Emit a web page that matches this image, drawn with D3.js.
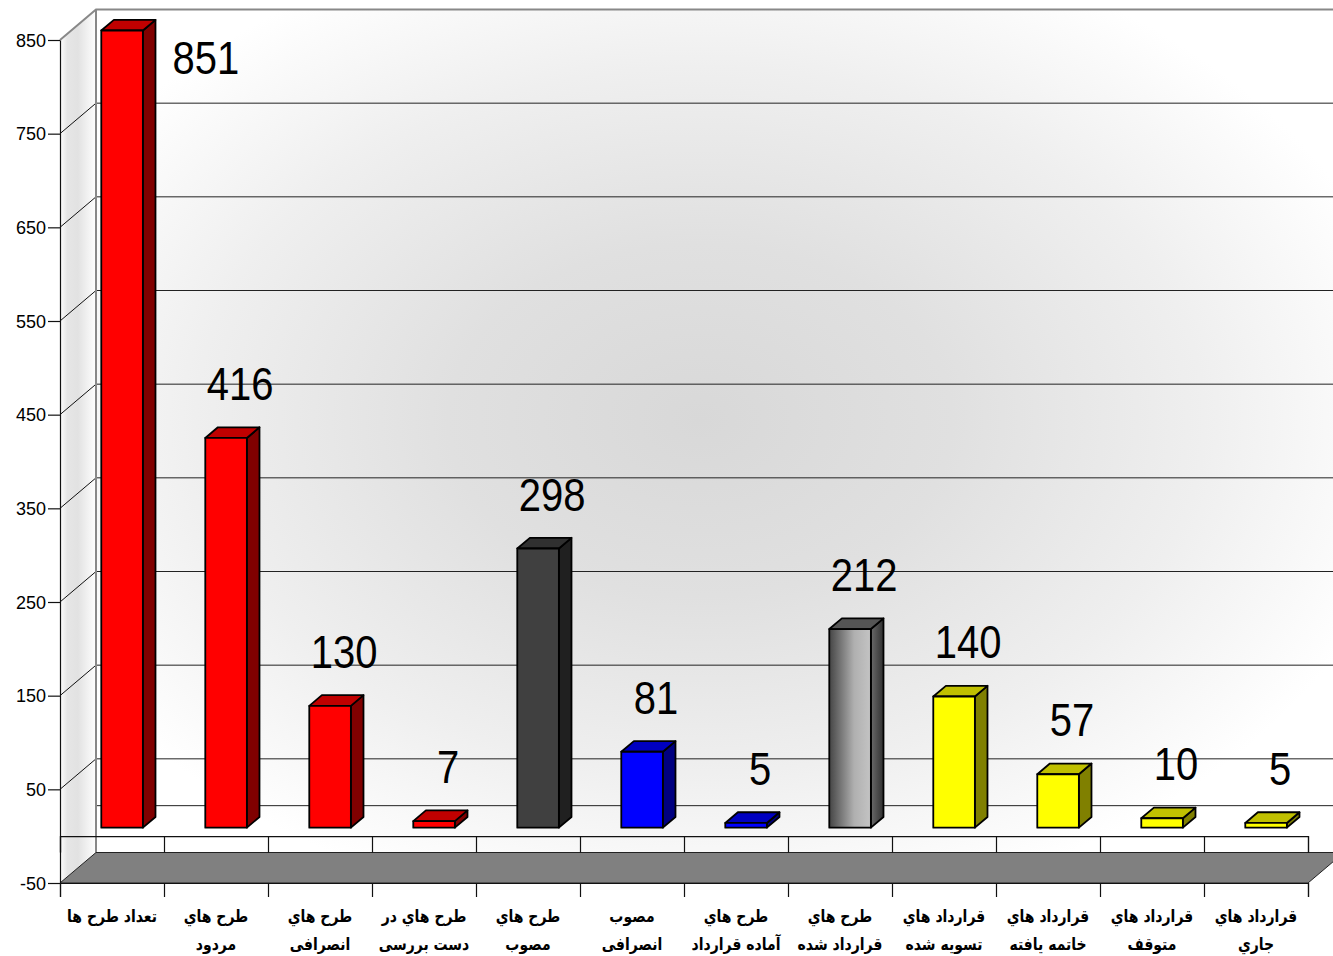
<!DOCTYPE html>
<html>
<head>
<meta charset="utf-8">
<script src="https://cdn.jsdelivr.net/npm/d3@7"></script>
<style>
  body { margin: 0; background: #fff; }
  svg { display: block; }
</style>
</head>
<body>
<script>
// data
const categories = [
  ["تعداد طرح ها"],
  ["طرح هاي", "مردود"],
  ["طرح هاي", "انصرافی"],
  ["طرح هاي در", "دست بررسی"],
  ["طرح هاي", "مصوب"],
  ["مصوب", "انصرافی"],
  ["طرح هاي", "آماده قرارداد"],
  ["طرح هاي", "قرارداد شده"],
  ["قرارداد هاي", "تسویه شده"],
  ["قرارداد هاي", "خاتمه يافته"],
  ["قرارداد هاي", "متوقف"],
  ["قرارداد هاي", "جاري"],
]
const values = [851, 416, 130, 7, 298, 81, 5, 212, 140, 57, 10, 5]
const yTicks = [850, 750, 650, 550, 450, 350, 250, 150, 50, -50]

// bar colour per category (front, top, side)
const palette = {
  red: ["#ff0000", "#c00000", "#800000"],
  dark: ["#404040", "#303030", "#202020"],
  blue: ["#0000ff", "#0000c0", "#000080"],
  gray: ["url(#grayFront)", "#555555", "url(#graySide)"],
  yellow: ["#ffff00", "#c0c000", "#808000"],
}
const barStyle = ["red", "red", "red", "red", "dark", "blue", "blue", "gray",
  "yellow", "yellow", "yellow", "yellow"]

const w = 1333
const h = 956
const left = 60
const right = 1308
const DX = 36   // depth of the 3d box
const DY = 30.5
const f1 = 0.28 // bar front depth
const f2 = 0.63 // bar back depth

const svg = d3.select("body").append("svg").attr("width", w).attr("height", h)
const defs = svg.append("defs")

const wallGrad = defs.append("radialGradient").attr("id", "wall")
  .attr("gradientUnits", "userSpaceOnUse")
  .attr("cx", 700).attr("cy", 420).attr("r", 720)
  .attr("gradientTransform", "translate(700,420) scale(1,0.7) translate(-700,-420)")
wallGrad.append("stop").attr("offset", 0).attr("stop-color", "#d8d8d8")
wallGrad.append("stop").attr("offset", 0.35).attr("stop-color", "#e0e0e0")
wallGrad.append("stop").attr("offset", 0.7).attr("stop-color", "#efefef")
wallGrad.append("stop").attr("offset", 1).attr("stop-color", "#ffffff")

const sideGrad = defs.append("linearGradient").attr("id", "side")
  .attr("x1", 0).attr("x2", 1).attr("y1", 0).attr("y2", 0)
sideGrad.append("stop").attr("offset", 0).attr("stop-color", "#ffffff")
sideGrad.append("stop").attr("offset", 0.2).attr("stop-color", "#e6e6e6")
sideGrad.append("stop").attr("offset", 0.5).attr("stop-color", "#e2e2e2")
sideGrad.append("stop").attr("offset", 0.85).attr("stop-color", "#f6f6f6")
sideGrad.append("stop").attr("offset", 1).attr("stop-color", "#ffffff")

const gf = defs.append("linearGradient").attr("id", "grayFront")
gf.append("stop").attr("offset", 0).attr("stop-color", "#454545")
gf.append("stop").attr("offset", 0.6).attr("stop-color", "#b0b0b0")
gf.append("stop").attr("offset", 1).attr("stop-color", "#c4c4c4")
const gs = defs.append("linearGradient").attr("id", "graySide")
gs.append("stop").attr("offset", 0).attr("stop-color", "#6a6a6a")
gs.append("stop").attr("offset", 1).attr("stop-color", "#303030")

const y = d3.scaleLinear().domain([-50, 850]).range([883, 40])
const xi = d3.scaleLinear().domain([0, categories.length]).range([left, right])
const x = d3.scaleBand()
  .domain(d3.range(categories.length))
  .range([left, right])
  .paddingInner(0.6)
  .paddingOuter(0.3)

// back wall
const wallTop = y(850) - DY
const wallBottom = y(-50) - DY
svg.append("rect")
  .attr("x", left + DX).attr("y", wallTop)
  .attr("width", right - left).attr("height", wallBottom - wallTop)
  .attr("fill", "url(#wall)")

// side wall
svg.append("path")
  .attr("d", `M${left},${y(850)}L${left + DX},${wallTop}L${left + DX},${wallBottom}L${left},${y(-50)}Z`)
  .attr("fill", "url(#side)")

// grid lines on back and side walls
const gridVals = yTicks.filter((d) => d < 850 && d > -50).concat([0])
svg.selectAll(".grid")
  .data(gridVals)
  .enter()
  .append("line")
  .attr("x1", left + DX).attr("x2", right + DX)
  .attr("y1", (d) => y(d) - DY).attr("y2", (d) => y(d) - DY)
  .attr("stroke", "#222").attr("stroke-width", 1)
svg.selectAll(".sgrid")
  .data(yTicks.filter((d) => d < 850 && d > -50))
  .enter()
  .append("line")
  .attr("x1", left).attr("x2", left + DX)
  .attr("y1", (d) => y(d)).attr("y2", (d) => y(d) - DY)
  .attr("stroke", "#111").attr("stroke-width", 1)

// wall edges
svg.append("path")
  .attr("d", `M${left},${y(850)}L${left + DX},${wallTop}L${right + DX},${wallTop}`)
  .attr("fill", "none").attr("stroke", "#888").attr("stroke-width", 2)
svg.append("line")
  .attr("x1", left + DX).attr("x2", left + DX)
  .attr("y1", wallTop).attr("y2", wallBottom)
  .attr("stroke", "#888").attr("stroke-width", 2)

// floor
svg.append("path")
  .attr("d", `M${left},${y(-50)}L${right},${y(-50)}L${right + DX},${wallBottom}L${left + DX},${wallBottom}Z`)
  .attr("fill", "#808080")
  .attr("stroke", "#222").attr("stroke-width", 1)

// category axis at zero and below the floor
const catAxis = d3.axisBottom(xi).tickValues(d3.range(categories.length + 1))
  .tickFormat("").tickSizeOuter(0)
svg.append("g").attr("transform", `translate(0,${y(0)})`)
  .call(catAxis.tickSize(y(-50) - DY - y(0)))
svg.append("g").attr("transform", `translate(0,${y(-50)})`)
  .call(catAxis.tickSize(14))
svg.selectAll(".domain, .tick line").attr("stroke", "#111").attr("stroke-width", 1.2)

// value axis
const yAxis = d3.axisLeft(y).tickValues(yTicks).tickSize(12).tickSizeOuter(0)
  .tickFormat((d) => String(d))
const ya = svg.append("g").attr("transform", `translate(${left},0)`).call(yAxis)
ya.select(".domain").attr("stroke", "#111").attr("stroke-width", 1.2)
ya.selectAll(".tick line").attr("stroke", "#111").attr("stroke-width", 1.2)
ya.selectAll(".tick text")
  .attr("font-family", "'Liberation Sans', Arial, sans-serif")
  .attr("font-size", 18)
  .attr("fill", "#000")
  .attr("x", -14)
  .attr("dy", "0.35em")

// bars
const bw = x.bandwidth()
const ddx = (f2 - f1) * DX
const ddy = (f2 - f1) * DY
const bars = svg.selectAll(".bar")
  .data(values)
  .enter()
  .append("g")
  .attr("class", "bar")
  .attr("stroke", "#000")
  .attr("stroke-width", 1.8)
  .attr("stroke-linejoin", "round")

bars.append("path")
  .attr("d", (d, i) => {
    const xf = x(i) + f1 * DX + bw
    const yt = y(d) - f1 * DY
    const yb = y(0) - f1 * DY
    return `M${xf},${yt}L${xf + ddx},${yt - ddy}L${xf + ddx},${yb - ddy}L${xf},${yb}Z`
  })
  .attr("fill", (d, i) => palette[barStyle[i]][2])
bars.append("path")
  .attr("d", (d, i) => {
    const xf = x(i) + f1 * DX
    const yt = y(d) - f1 * DY
    return `M${xf},${yt}L${xf + bw},${yt}L${xf + bw + ddx},${yt - ddy}L${xf + ddx},${yt - ddy}Z`
  })
  .attr("fill", (d, i) => palette[barStyle[i]][1])
bars.append("rect")
  .attr("x", (d, i) => x(i) + f1 * DX)
  .attr("y", (d) => y(d) - f1 * DY)
  .attr("width", bw)
  .attr("height", (d) => y(0) - y(d))
  .attr("fill", (d, i) => palette[barStyle[i]][0])

// value labels
svg.selectAll(".val")
  .data(values)
  .enter()
  .append("text")
  .attr("class", "val")
  .each(function (d, i) {
    const top = y(d) - f1 * DY
    let lx = x(i) + f1 * DX + bw / 2 + 14
    let ly = top - 38
    let anchor = "middle"
    if (ly - 36 < 0) {
      lx = x(i) + f1 * DX + bw + ddx + 17
      ly = top + 43
      anchor = "start"
    }
    d3.select(this)
      .attr("text-anchor", anchor)
      .attr("transform", `translate(${lx},${ly}) scale(1,1.15)`)
  })
  .attr("font-family", "'Liberation Sans', Arial, sans-serif")
  .attr("font-size", 40)
  .attr("fill", "#000")
  .text((d) => d)

// category labels (slightly stretched vertically like the original)
const cl = svg.selectAll(".cat")
  .data(categories)
  .enter()
  .append("text")
  .attr("class", "cat")
  .attr("text-anchor", "middle")
  .attr("transform", (d, i) => `translate(${xi(i + 0.5)},922) scale(1,1.2)`)
  .attr("font-family", "'DejaVu Sans', sans-serif")
  .attr("font-weight", "bold")
  .attr("font-size", 14)
  .attr("fill", "#000")
cl.selectAll("tspan")
  .data((d) => d)
  .enter()
  .append("tspan")
  .attr("x", 0)
  .attr("y", (d, j) => (j * 28) / 1.2)
  .text((d) => d)
</script>
</body>
</html>
